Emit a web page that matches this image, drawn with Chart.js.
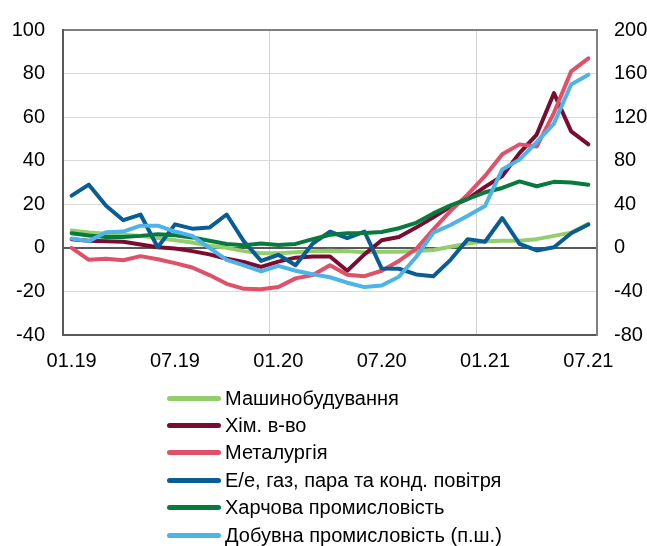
<!DOCTYPE html>
<html>
<head>
<meta charset="utf-8">
<script src="https://cdn.jsdelivr.net/npm/chart.js@4.4.0/dist/chart.umd.min.js"></script>
<style>
  body { margin: 0; background: #fff; }
  #wrap { position: relative; width: 647px; height: 546px; }
  #chart { position: absolute; left: 0; top: 0; }
  #legend { position: absolute; left: 0; top: 0; width: 647px; height: 546px; pointer-events: none; }
  .item { position: absolute; left: 167px; height: 26px; display: flex; align-items: center;
          font: 20px "Liberation Sans", Arial, sans-serif; color: #000; white-space: nowrap; }
  .swatch { width: 54px; height: 5px; border-radius: 3px; margin-right: 4px; }
</style>
</head>
<body>
<div id="wrap">
  <canvas id="chart" width="647" height="380"></canvas>
  <div id="legend"></div>
</div>
<script>
// months 01.19 - 07.21
const months = ['01.19','02.19','03.19','04.19','05.19','06.19','07.19','08.19','09.19','10.19','11.19','12.19',
                '01.20','02.20','03.20','04.20','05.20','06.20','07.20','08.20','09.20','10.20','11.20','12.20',
                '01.21','02.21','03.21','04.21','05.21','06.21','07.21'];

const seriesNames = ['Машинобудування', 'Хім. в-во', 'Металургія', 'Е/е, газ, пара та конд. повітря',
                     'Харчова промисловість', 'Добувна промисловість (п.ш.)'];

const machinery = [8, 7, 6.5, 6, 5.5, 4.5, 3.5, 2.5, 1, 0, -1.5, -2.5, -2.5, -2, -1.5, -1.3, -1.5, -2, -1.8, -1.8,
                   -1.5, -1, 0.5, 2, 3, 3.3, 3.3, 4, 5.5, 7, 11];
const chemicals = [4, 3.3, 3, 2.8, 1.5, 0.3, -0.3, -1.5, -3, -5, -6.5, -8.7, -6.3, -4.5, -4, -4, -10.5, -3, 3.5, 5,
                   9.3, 14, 19, 22.5, 28, 33, 43.5, 52, 71, 53.5, 47.5];
const metals = [0, -5.5, -5, -5.7, -3.8, -5.2, -7, -9, -12.5, -16.5, -18.8, -19, -18, -14, -12.5, -8, -12.3, -13, -10.5, -6,
                -0.5, 8.5, 17, 24.5, 33, 43, 47.5, 46.5, 62, 81, 87];
const energy = [24, 29, 19.3, 12.7, 15.3, 0.3, 10.8, 8.8, 9.3, 15.3, 3, -6, -3.2, -8, 2, 7.5, 4.5, 7.5, -9.5, -9.6,
                -12.2, -13, -5.5, 4, 2.8, 13.7, 1.8, -1.2, 0.3, 6.7, 10.7];
const food = [6.7, 5.7, 5, 5, 5.5, 6.3, 5.8, 4.8, 3.3, 1.8, 1.2, 2, 1.3, 1.8, 4, 6, 6.7, 6.8, 7.3, 9,
              11.5, 15.8, 19.5, 22.5, 25.5, 27.5, 30.5, 28.3, 30.3, 30, 29];
const mining = [8.6, 6.2, 14.4, 15, 20.4, 20.4, 15, 11, 0, -11, -16, -21.6, -16.5, -21, -24.2, -27, -32, -36, -34.5, -26.5,
                -8.4, 14, 21, 29.5, 38.5, 72, 81, 97, 114, 150, 159];

const leftTicks = [-40, 100, 20];   // min, max, step
const rightTicks = [-80, 200, 40];

const colors = ['#92CF6C', '#7A0C32', '#E05068', '#0A5C94', '#087A3E', '#4DB3E8'];
const values = [machinery, chemicals, metals, energy, food, mining];

const font = { family: '"Liberation Sans", Arial, sans-serif', size: 20 };

const datasets = values.map((v, i) => ({
    label: seriesNames[i],
    data: v,
    borderColor: colors[i],
    backgroundColor: colors[i],
    borderWidth: 4,
    pointRadius: 0,
    tension: 0,
    borderJoinStyle: 'round',
    borderCapStyle: 'round',
    yAxisID: i === 5 ? 'y1' : 'y',
    order: values.length - i   // last series on top, like the original
}));

new Chart(document.getElementById('chart'), {
    type: 'line',
    data: { labels: months, datasets: datasets },
    options: {
        responsive: false,
        animation: false,
        layout: { padding: { top: 22, left: 0, right: 0, bottom: 0 } },
        plugins: { legend: { display: false }, tooltip: { enabled: false } },
        scales: {
            x: {
                offset: true,
                grid: {
                    offset: true,
                    drawTicks: false,
                    color: ctx => (ctx.index === 12 || ctx.index === 24) ? '#cfd3d8' : 'rgba(0,0,0,0)',
                    lineWidth: 1
                },
                border: { display: true, color: '#595959', width: 2 },
                ticks: {
                    autoSkip: false, maxRotation: 0, padding: 14, color: '#000', font: font,
                    callback: function (val, idx) { return idx % 6 === 0 ? this.getLabelForValue(val) : ''; }
                },
                afterFit: s => { s.height = 45; }
            },
            y: {
                position: 'left',
                min: leftTicks[0], max: leftTicks[1],
                ticks: { stepSize: leftTicks[2], padding: 18, color: '#000', font: font },
                grid: {
                    drawTicks: false,
                    color: ctx => ctx.tick.value === 0 ? '#595959' : (ctx.tick.value === 100 ? '#7f7f7f' : '#d9d9d9'),
                    lineWidth: ctx => ctx.tick.value === 0 ? 2 : (ctx.tick.value === 100 ? 2 : 1)
                },
                border: { display: true, color: '#595959', width: 2 },
                afterFit: s => { s.width = 63; }
            },
            y1: {
                position: 'right',
                min: rightTicks[0], max: rightTicks[1],
                ticks: { stepSize: rightTicks[2], padding: 17, color: '#000', font: font },
                grid: { display: false, drawTicks: false },
                border: { display: true, color: '#7f7f7f', width: 2 },
                afterFit: s => { s.width = 50; }
            }
        }
    }
});

// legend, one series per row
const legend = document.getElementById('legend');
seriesNames.forEach((name, i) => {
    const row = document.createElement('div');
    row.className = 'item';
    row.style.top = (398 + 27.4 * i - 13) + 'px';
    const sw = document.createElement('span');
    sw.className = 'swatch';
    sw.style.background = colors[i];
    const txt = document.createElement('span');
    txt.textContent = name;
    row.appendChild(sw);
    row.appendChild(txt);
    legend.appendChild(row);
});
</script>
</body>
</html>
